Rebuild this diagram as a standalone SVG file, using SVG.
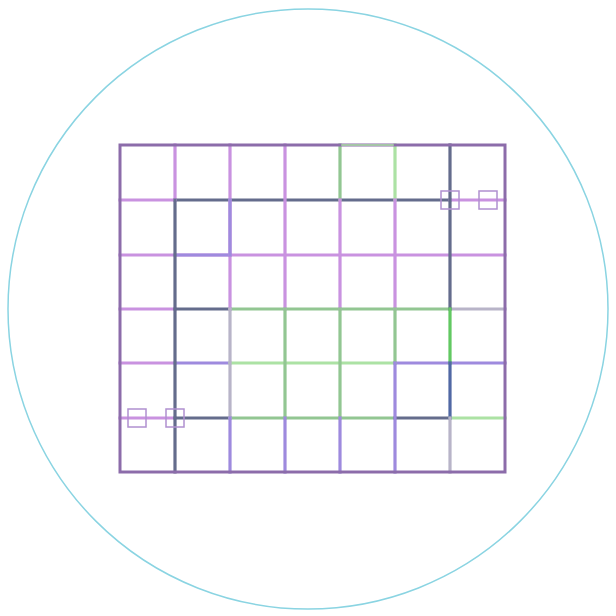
<svg xmlns="http://www.w3.org/2000/svg" width="616" height="616" viewBox="0 0 616 616">
<style>
line{stroke-width:3.2;stroke-linecap:square}
.p{stroke:#c992e0}
.d{stroke:#646c8c}
.b{stroke:#9e8ade}
.g{stroke:#92c692}
.lg{stroke:#ace2a4}
.gy{stroke:#b8b4c8}
.h{fill:none;stroke:#b090d0;stroke-width:1.5}
</style>
<rect width="616" height="616" fill="#fff"/>
<circle cx="308" cy="309" r="300" fill="none" stroke="#8ad4e2" stroke-width="1.5"/>
<g id="grid">
<line class="d" x1="175" y1="200" x2="450" y2="200"/>
<line class="p" x1="120" y1="200" x2="175" y2="200"/>
<line class="p" x1="450" y1="200" x2="505" y2="200"/>
<line class="p" x1="120" y1="255" x2="505" y2="255"/>
<line class="b" x1="175" y1="255" x2="230" y2="255"/>
<line class="p" x1="120" y1="309" x2="175" y2="309"/>
<line class="d" x1="175" y1="309" x2="230" y2="309"/>
<line class="g" x1="230" y1="309" x2="450" y2="309"/>
<line class="gy" x1="450" y1="309" x2="505" y2="309"/>
<line class="p" x1="120" y1="363" x2="175" y2="363"/>
<line class="b" x1="175" y1="363" x2="230" y2="363"/>
<line class="lg" x1="230" y1="363" x2="395" y2="363"/>
<line class="b" x1="395" y1="363" x2="505" y2="363"/>
<line class="p" x1="120" y1="418" x2="175" y2="418"/>
<line class="d" x1="175" y1="418" x2="230" y2="418"/>
<line class="g" x1="230" y1="418" x2="395" y2="418"/>
<line class="d" x1="395" y1="418" x2="450" y2="418"/>
<line class="lg" x1="450" y1="418" x2="505" y2="418"/>
<line class="p" x1="175" y1="145" x2="175" y2="200"/>
<line class="d" x1="175" y1="200" x2="175" y2="472"/>
<line class="p" x1="230" y1="145" x2="230" y2="309"/>
<line class="b" x1="230" y1="200" x2="230" y2="255"/>
<line class="gy" x1="230" y1="309" x2="230" y2="418"/>
<line class="b" x1="230" y1="418" x2="230" y2="472"/>
<line class="p" x1="285" y1="145" x2="285" y2="309"/>
<line class="g" x1="285" y1="309" x2="285" y2="418"/>
<line class="b" x1="285" y1="418" x2="285" y2="472"/>
<line class="g" x1="340" y1="145" x2="340" y2="200"/>
<line class="p" x1="340" y1="200" x2="340" y2="309"/>
<line class="g" x1="340" y1="309" x2="340" y2="418"/>
<line class="b" x1="340" y1="418" x2="340" y2="472"/>
<line class="lg" x1="395" y1="145" x2="395" y2="200"/>
<line class="p" x1="395" y1="200" x2="395" y2="309"/>
<line class="g" x1="395" y1="309" x2="395" y2="363"/>
<line class="b" x1="395" y1="363" x2="395" y2="472"/>
<line class="d" x1="450" y1="145" x2="450" y2="309"/>
<line stroke="#62c862" x1="450" y1="309" x2="450" y2="363"/>
<line stroke="#5068a4" x1="450" y1="363" x2="450" y2="418"/>
<line class="gy" x1="450" y1="418" x2="450" y2="472"/>
<rect x="120" y="145" width="385" height="327" fill="none" stroke="#8c6caa" stroke-width="3"/>
<line class="lg" x1="342" y1="145" x2="393" y2="145" style="stroke-width:1.5"/>
</g>
<g id="handles">
<rect class="h" x="128" y="409" width="18" height="18"/>
<rect class="h" x="166" y="409" width="18" height="18"/>
<rect class="h" x="441" y="191" width="18" height="18"/>
<rect class="h" x="479" y="191" width="18" height="18"/>
</g>
</svg>
